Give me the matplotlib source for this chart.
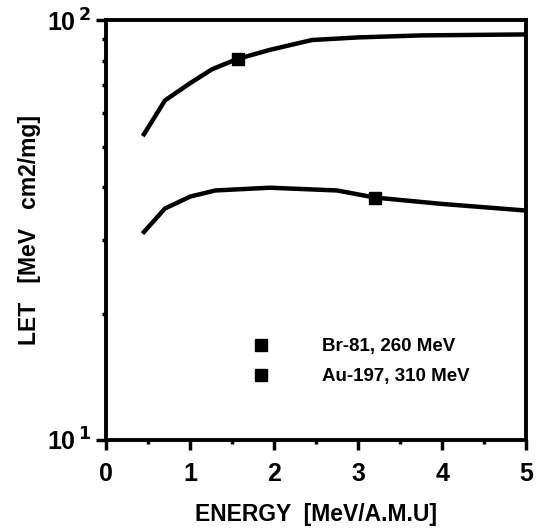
import numpy as np
import matplotlib.pyplot as plt
from matplotlib.ticker import FixedLocator, NullFormatter

plt.rcParams['font.family'] = ['Liberation Sans', 'DejaVu Sans']
plt.rcParams['font.weight'] = 'bold'
plt.rcParams['mathtext.default'] = 'bf'

# Au-197, 310 MeV (upper curve)
au_energy = [0.45, 0.7, 1.0, 1.26, 1.55, 1.95, 2.45, 3.0, 3.75, 5.0]
au_let = [53.5, 64.4, 70.8, 76.4, 80.7, 85.0, 89.7, 91.0, 92.0, 92.5]
au_point = (1.57, 81.0)

# Br-81, 260 MeV (lower curve)
br_energy = [0.45, 0.7, 1.0, 1.3, 1.95, 2.75, 3.2, 4.0, 5.0]
br_let = [31.3, 35.6, 38.0, 39.3, 39.9, 39.3, 37.8, 36.5, 35.2]
br_point = (3.2, 37.8)

fig = plt.figure(figsize=(5.39, 5.32), dpi=100)
ax = fig.add_axes([0.197, 0.173, 0.779, 0.789])

ax.plot(au_energy, au_let, color='black', lw=3.2)
ax.plot(br_energy, br_let, color='black', lw=3.2)
br_m, = ax.plot([br_point[0]], [br_point[1]], 's', color='black', ms=8.5, label='Br-81, 260 MeV')
au_m, = ax.plot([au_point[0]], [au_point[1]], 's', color='black', ms=8.5, label='Au-197, 310 MeV')

ax.set_yscale('log')
ax.set_xlim(0, 5)
ax.set_ylim(10, 100)

ax.yaxis.set_major_locator(FixedLocator([10, 100]))
ax.set_yticklabels(['10$^{\\,1}$', '10$^{\\,2}$'])
ax.yaxis.set_minor_locator(FixedLocator(np.arange(20, 100, 10)))
ax.yaxis.set_minor_formatter(NullFormatter())
ax.set_xticks(np.arange(0, 6, 1))
ax.set_xticks(np.arange(0.5, 5, 1), minor=True)

for s in ax.spines.values():
    s.set_linewidth(2.8)
ax.tick_params(axis='both', which='major', labelsize=18, width=2.5, length=7, direction='out')
ax.tick_params(axis='x', which='major', pad=9)
ax.tick_params(axis='y', which='major', pad=4)
ax.tick_params(axis='both', which='minor', width=2.5, length=3, direction='out')

ax.set_xlabel('ENERGY  [MeV/A.M.U]', fontsize=16.5, fontweight='bold', labelpad=12)
ax.set_ylabel('LET   [MeV   cm2/mg]', fontsize=16.5, fontweight='bold', labelpad=4)

ax.legend(handles=[br_m, au_m], loc='upper left', bbox_to_anchor=(0.351, 0.243),
          frameon=False, handletextpad=2.85, labelspacing=0.7, borderpad=0,
          borderaxespad=0, handlelength=0.8, prop={'weight': 'bold', 'size': 13.5})

fig.savefig('out.png', dpi=100)
